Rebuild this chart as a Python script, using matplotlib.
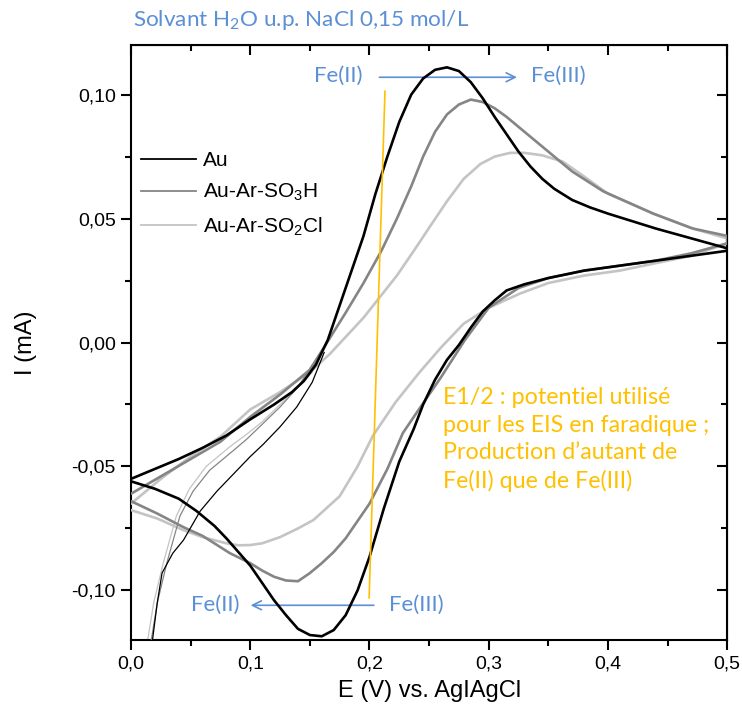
import matplotlib
matplotlib.use("Agg")
import matplotlib.pyplot as plt
from matplotlib.lines import Line2D
from matplotlib.ticker import MultipleLocator, FuncFormatter

plt.rcParams['font.family'] = ['Liberation Sans', 'DejaVu Sans']
plt.rcParams['mathtext.default'] = 'regular'

# --- data (E in V, I in mA) ---
# Au
au_fwd_E = [0, 0.02, 0.04, 0.06, 0.08, 0.1, 0.12, 0.135, 0.145, 0.155, 0.165, 0.175, 0.185, 0.195,
            0.205, 0.215, 0.225, 0.235, 0.245, 0.255, 0.265, 0.275, 0.285, 0.295, 0.305, 0.315,
            0.325, 0.335, 0.345, 0.355, 0.37, 0.385, 0.4, 0.42, 0.44, 0.47, 0.5]
au_fwd_I = [-0.055, -0.051, -0.047, -0.0425, -0.0375, -0.031, -0.025, -0.020, -0.0155, -0.009,
            0.001, 0.015, 0.029, 0.043, 0.060, 0.075, 0.089, 0.100, 0.1065, 0.110, 0.111, 0.1095,
            0.105, 0.0985, 0.091, 0.084, 0.077, 0.071, 0.066, 0.062, 0.0575, 0.0545, 0.052,
            0.049, 0.046, 0.042, 0.038]
au_rev_E = [0.5, 0.47, 0.44, 0.41, 0.38, 0.35, 0.33, 0.315, 0.305, 0.295, 0.285, 0.275, 0.265,
            0.255, 0.245, 0.237, 0.225, 0.212, 0.2, 0.19, 0.18, 0.17, 0.16, 0.15, 0.14, 0.13,
            0.12, 0.11, 0.1, 0.09, 0.08, 0.07, 0.055, 0.04, 0.02, 0.0]
au_rev_I = [0.037, 0.035, 0.033, 0.031, 0.029, 0.026, 0.0235, 0.021, 0.017, 0.0125, 0.006,
            -0.001, -0.007, -0.015, -0.025, -0.035, -0.048, -0.067, -0.0865, -0.100, -0.110,
            -0.116, -0.1185, -0.118, -0.1155, -0.110, -0.104, -0.097, -0.090, -0.0845, -0.079,
            -0.074, -0.068, -0.063, -0.059, -0.056]
au_init_E = [0.015, 0.018, 0.022, 0.026, 0.035, 0.044, 0.058, 0.072, 0.086, 0.1, 0.111, 0.125,
             0.139, 0.152, 0.162]
au_init_I = [-0.13, -0.12, -0.105, -0.093, -0.085, -0.0797, -0.068, -0.060, -0.053, -0.046,
             -0.041, -0.034, -0.026, -0.016, -0.004]

# Au-Ar-SO3H
so3h_fwd_E = [0, 0.025, 0.05, 0.075, 0.1, 0.125, 0.15, 0.167, 0.18, 0.195, 0.21, 0.223, 0.235,
              0.245, 0.255, 0.265, 0.275, 0.285, 0.295, 0.305, 0.315, 0.325, 0.335, 0.345, 0.355,
              0.37, 0.396, 0.438, 0.471, 0.5]
so3h_fwd_I = [-0.061, -0.054, -0.047, -0.040, -0.030, -0.021, -0.011, 0.002, 0.012, 0.024, 0.037,
              0.050, 0.063, 0.075, 0.085, 0.092, 0.096, 0.098, 0.097, 0.0945, 0.091, 0.087, 0.083,
              0.079, 0.075, 0.069, 0.061, 0.052, 0.046, 0.043]
so3h_rev_E = [0.5, 0.47, 0.44, 0.41, 0.38, 0.35, 0.325, 0.3, 0.28, 0.26, 0.24, 0.228, 0.215, 0.2,
              0.19, 0.18, 0.17, 0.16, 0.15, 0.14, 0.13, 0.12, 0.11, 0.1, 0.083, 0.06, 0.044,
              0.022, 0.0]
so3h_rev_I = [0.040, 0.036, 0.033, 0.031, 0.029, 0.026, 0.022, 0.014, 0.001, -0.014, -0.028,
              -0.0365, -0.051, -0.065, -0.072, -0.079, -0.0845, -0.089, -0.093, -0.0963, -0.096,
              -0.0945, -0.092, -0.089, -0.085, -0.078, -0.0745, -0.069, -0.064]
so3h_init_E = [0.014, 0.017, 0.022, 0.030, 0.041, 0.052, 0.066, 0.086, 0.097, 0.11, 0.125, 0.14,
               0.152]
so3h_init_I = [-0.13, -0.12, -0.105, -0.089, -0.070, -0.060, -0.0515, -0.0435, -0.039, -0.033,
               -0.026, -0.018, -0.009]

# Au-Ar-SO2Cl
so2cl_fwd_E = [0, 0.025, 0.05, 0.075, 0.1, 0.125, 0.15, 0.167, 0.195, 0.223, 0.24, 0.251, 0.265,
               0.279, 0.293, 0.305, 0.318, 0.33, 0.345, 0.362, 0.38, 0.4, 0.438, 0.471, 0.5]
so2cl_fwd_I = [-0.065, -0.055, -0.046, -0.038, -0.027, -0.020, -0.012, -0.0045, 0.010, 0.027,
               0.039, 0.047, 0.057, 0.066, 0.072, 0.075, 0.0765, 0.0765, 0.0755, 0.073, 0.067,
               0.060, 0.052, 0.046, 0.042]
so2cl_rev_E = [0.5, 0.47, 0.44, 0.41, 0.38, 0.35, 0.326, 0.3, 0.279, 0.26, 0.242, 0.222, 0.203,
               0.19, 0.175, 0.153, 0.14, 0.125, 0.11, 0.1, 0.09, 0.08, 0.06, 0.044, 0.022, 0.0]
so2cl_rev_I = [0.040, 0.035, 0.032, 0.029, 0.027, 0.024, 0.0197, 0.014, 0.0076, -0.002, -0.012,
               -0.024, -0.0375, -0.050, -0.062, -0.0716, -0.075, -0.0785, -0.081, -0.0817,
               -0.0818, -0.081, -0.0785, -0.0757, -0.071, -0.0676]
so2cl_init_E = [0.011, 0.014, 0.019, 0.027, 0.038, 0.049, 0.063, 0.083, 0.097, 0.11, 0.125, 0.14,
                0.152]
so2cl_init_I = [-0.13, -0.12, -0.105, -0.089, -0.070, -0.059, -0.050, -0.042, -0.037, -0.032,
                -0.025, -0.018, -0.012]

# E1/2 guide line
e12_E = [0.1997, 0.213]
e12_I = [-0.103, 0.1014]

BLUE = '#5B8FD6'
ORANGE = '#FFC000'
ANNOT_FONT = ['Lato', 'DejaVu Sans']

fig = plt.figure(figsize=(7.42, 7.17), dpi=100)
ax = fig.add_axes([0.1766, 0.1074, 0.8034, 0.8298])

curves = [
    ('Au-Ar-SO$_2$Cl', '#c4c4c4', so2cl_fwd_E, so2cl_fwd_I, so2cl_rev_E, so2cl_rev_I, so2cl_init_E, so2cl_init_I),
    ('Au-Ar-SO$_3$H', '#858585', so3h_fwd_E, so3h_fwd_I, so3h_rev_E, so3h_rev_I, so3h_init_E, so3h_init_I),
    ('Au', '#000000', au_fwd_E, au_fwd_I, au_rev_E, au_rev_I, au_init_E, au_init_I),
]
colors = {}
for i, (name, col, fE, fI, rE, rI, iE, iI) in enumerate(curves):
    ax.plot(iE, iI, color=col, lw=0.9, zorder=2 + i)
    ax.plot(fE + rE, fI + rI, color=col, lw=1.9, zorder=3 + i, solid_joinstyle='round')
    colors[name] = col

ax.plot(e12_E, e12_I, color=ORANGE, lw=1.2, zorder=6)

ax.set_xlim(0, 0.5)
ax.set_ylim(-0.12, 0.12)

ax.xaxis.set_major_locator(MultipleLocator(0.1))
ax.xaxis.set_minor_locator(MultipleLocator(0.05))
ax.yaxis.set_major_locator(MultipleLocator(0.05))
ax.yaxis.set_minor_locator(MultipleLocator(0.025))
ax.xaxis.set_major_formatter(FuncFormatter(lambda v, p: f'{v:.1f}'.replace('.', ',')))
ax.yaxis.set_major_formatter(FuncFormatter(lambda v, p: f'{v:.2f}'.replace('.', ',').replace('-0,00', '0,00')))
ax.tick_params(which='major', direction='out', length=7, width=1.5, labelsize=14, pad=4)
ax.tick_params(which='minor', direction='out', length=4, width=1.5)
for s in ax.spines.values():
    s.set_linewidth(1.5)

# inward ticks on top and right
top = ax.secondary_xaxis('top')
top.xaxis.set_major_locator(MultipleLocator(0.1))
top.xaxis.set_minor_locator(MultipleLocator(0.05))
top.tick_params(which='major', direction='in', length=7, width=1.5, labeltop=False)
top.tick_params(which='minor', direction='in', length=4, width=1.5)
right = ax.secondary_yaxis('right')
right.yaxis.set_major_locator(MultipleLocator(0.05))
right.yaxis.set_minor_locator(MultipleLocator(0.025))
right.tick_params(which='major', direction='in', length=7, width=1.5, labelright=False)
right.tick_params(which='minor', direction='in', length=4, width=1.5)

ax.set_xlabel('E (V) vs. AgIAgCl', fontsize=17)
ax.set_ylabel('I (mA)', fontsize=17)
ax.xaxis.set_label_coords(0.5, -0.068)
ax.yaxis.set_label_coords(-0.158, 0.5)

names = ['Au', 'Au-Ar-SO$_3$H', 'Au-Ar-SO$_2$Cl']
proxies = [Line2D([], [], color=colors[n], lw=1.3) for n in names]
ax.legend(proxies, names, loc='upper left', bbox_to_anchor=(0.0168, 0.822), frameon=False,
          fontsize=15, handlelength=2.65, handletextpad=0.34, labelspacing=0.58,
          borderpad=0, borderaxespad=0)

# annotations
fig.text(133 / 742, 0.972, 'Solvant H$_2$O u.p. NaCl 0,15 mol/L', color=BLUE, fontsize=16.2,
         family=ANNOT_FONT, ha='left', va='center')

ax.annotate('', xy=(0.326, 0.107), xytext=(0.206, 0.107),
            arrowprops=dict(arrowstyle='->', color=BLUE, lw=1.2, mutation_scale=16))
ax.text(0.1737, 0.1074, 'Fe(II)', color=BLUE, fontsize=16, family=ANNOT_FONT, ha='center', va='center')
ax.text(0.358, 0.1074, 'Fe(III)', color=BLUE, fontsize=16, family=ANNOT_FONT, ha='center', va='center')

ax.annotate('', xy=(0.098, -0.106), xytext=(0.206, -0.106),
            arrowprops=dict(arrowstyle='->', color=BLUE, lw=1.2, mutation_scale=16))
ax.text(0.239, -0.1058, 'Fe(III)', color=BLUE, fontsize=16, family=ANNOT_FONT, ha='center', va='center')
ax.text(0.0705, -0.1058, 'Fe(II)', color=BLUE, fontsize=16, family=ANNOT_FONT, ha='center', va='center')

ax.text(0.2617, -0.0392,
        'E1/2 : potentiel utilisé\npour les EIS en faradique ;\nProduction d\u2019autant de\nFe(II) que de Fe(III)',
        color=ORANGE, fontsize=16.75, family=ANNOT_FONT, ha='left', va='center', linespacing=1.38)

fig.savefig('out.png', dpi=100)
